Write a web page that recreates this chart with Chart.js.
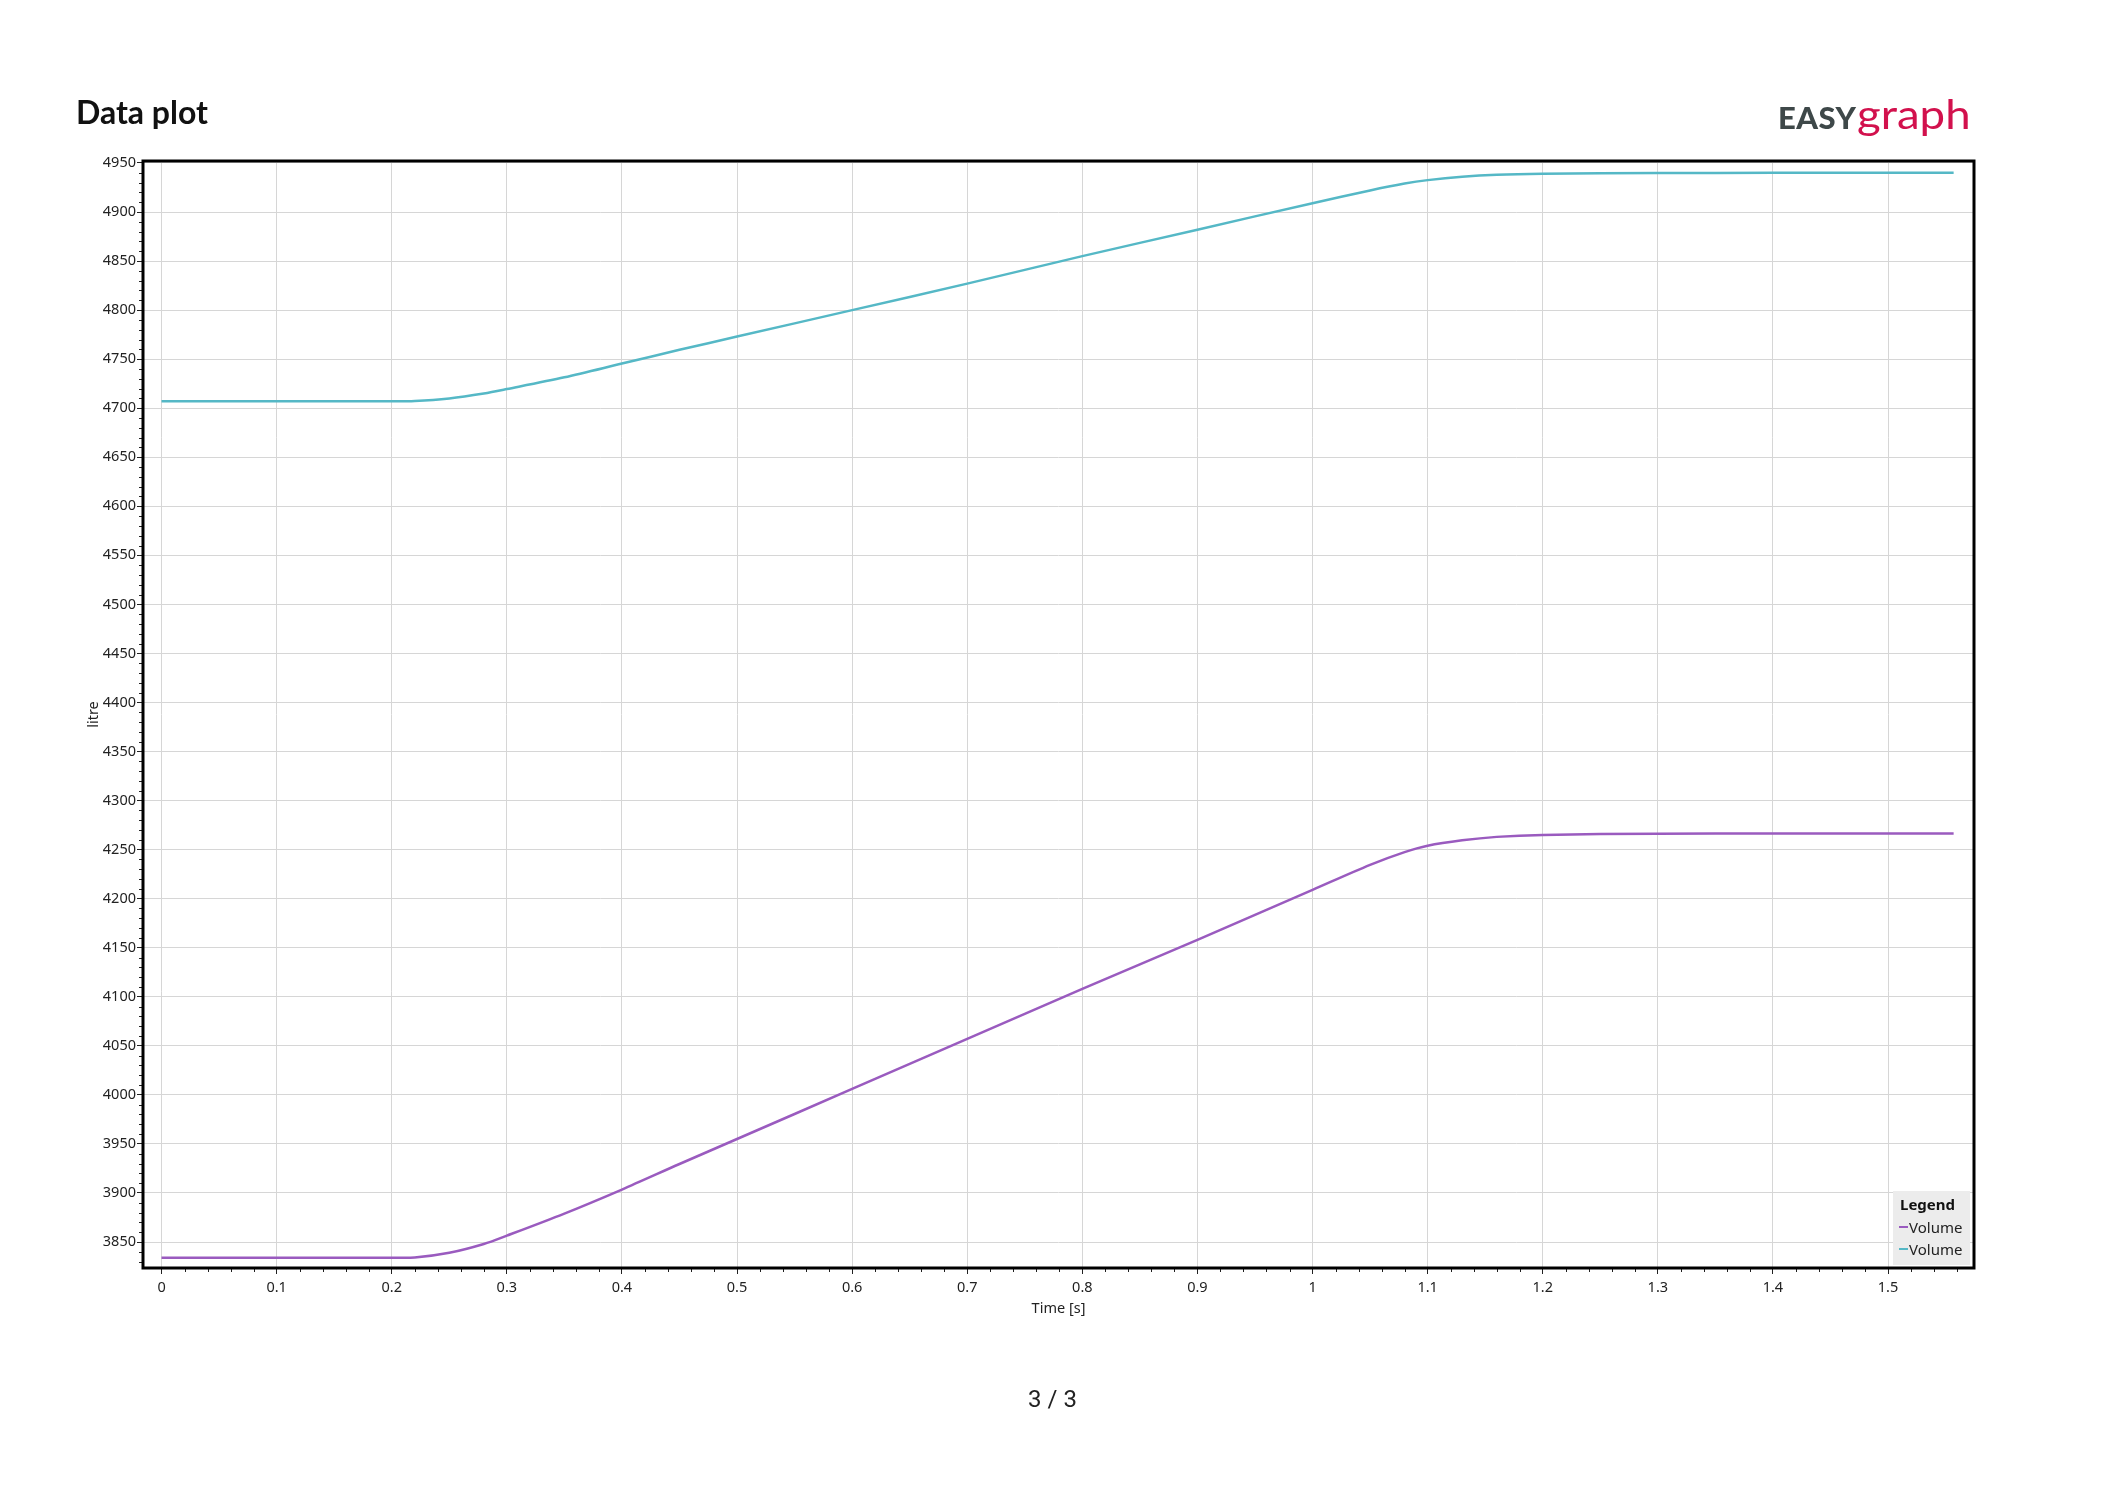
<!DOCTYPE html>
<html>
<head>
<meta charset="utf-8">
<script src="https://cdn.jsdelivr.net/npm/chart.js@4/dist/chart.umd.min.js"></script>
<style>
    html, body { margin: 0; padding: 0; background: #fff; }
    #page { position: relative; width: 2105px; height: 1489px; overflow: hidden; }
    #plot { position: absolute; left: 0; top: 0; }
    .page-title { position: absolute; left: 76px; top: 92px; font: bold 32px Lato, sans-serif; color: #111; }
    .logo { position: absolute; left: 1778px; top: 90px; white-space: nowrap; }
    .logo .easy { font: 900 31px Lato, sans-serif; color: #3e4849; letter-spacing: 0.5px; }
    .logo .graph { font: 400 40px Lato, sans-serif; color: #d2114d; display: inline-block; transform: scaleX(1.14); transform-origin: left; }
    .page-num { position: absolute; left: 0; width: 2105px; top: 1385px; text-align: center; font: 24px Roboto, sans-serif; color: #222; }
</style>
</head>
<body>
<div id="page">
    <canvas id="plot" width="2105" height="1489"></canvas>
    <div class="page-title">Data plot</div>
    <div class="logo"><span class="easy">EASY</span><span class="graph">graph</span></div>
    <div class="page-num">3 / 3</div>
</div>
<script>
// values
const timeS = [0, 0.1, 0.2, 0.22, 0.25, 0.28, 0.3, 0.35, 0.4, 0.45, 0.5, 0.6, 0.7, 0.8, 0.9,
    1.0, 1.05, 1.08, 1.1, 1.13, 1.16, 1.2, 1.3, 1.4, 1.5, 1.557];
const volumePurple = [3834, 3834, 3834, 3834.2, 3839, 3848, 3856.5, 3879, 3903.5, 3929.5, 3955, 4006, 4057, 4108, 4158,
    4209, 4234.5, 4247.5, 4254, 4259.5, 4263, 4265, 4266.3, 4266.5, 4266.5, 4266.5];
const volumeCyan = [4707, 4707, 4707, 4707.3, 4710, 4715, 4719.5, 4731.5, 4745.5, 4759.5, 4773, 4800, 4827, 4855, 4882,
    4909, 4922, 4929, 4932.5, 4936, 4938, 4939, 4939.7, 4940, 4940, 4940];
const seriesLabels = ['Volume', 'Volume'];
const seriesColors = ['#9a5bbf', '#55b8c6'];

const xRange = [-0.0161, 1.5747];
const yRange = [3823.5, 4952];
const xStep = 0.1, xMinorStep = 0.02;
const yStep = 50, yMinorStep = 10;

const tickFont = { family: 'Noto Sans', size: 14.5 };
const textColor = '#222';

const toPoints = (ys) => timeS.map((t, i) => ({ x: t, y: ys[i] }));

// black box round the plot plus the small minor ticks
const frameAndMinorTicks = {
    id: 'frameAndMinorTicks',
    afterDraw(chart) {
        const ctx = chart.ctx;
        const area = chart.chartArea;
        const xs = chart.scales.x;
        const ys = chart.scales.y;
        ctx.save();
        ctx.strokeStyle = '#222';
        ctx.lineWidth = 1;
        ctx.beginPath();
        const nx = Math.floor(xRange[1] / xMinorStep);
        for (let i = 0; i <= nx; i++) {
            if (i % 5 === 0) continue;
            const px = Math.round(xs.getPixelForValue(i * xMinorStep)) + 0.5;
            ctx.moveTo(px, area.bottom);
            ctx.lineTo(px, area.bottom + 4);
        }
        const y0 = Math.ceil(yRange[0] / yMinorStep);
        const y1 = Math.floor(yRange[1] / yMinorStep);
        for (let j = y0; j <= y1; j++) {
            if ((j * yMinorStep) % yStep === 0) continue;
            const py = Math.round(ys.getPixelForValue(j * yMinorStep)) + 0.5;
            ctx.moveTo(area.left - 4, py);
            ctx.lineTo(area.left, py);
        }
        ctx.stroke();

        ctx.strokeStyle = '#000';
        ctx.lineWidth = 3;
        ctx.strokeRect(area.left, area.top, area.right - area.left, area.bottom - area.top);
        ctx.restore();
    }
};

// legend box in the lower right corner of the plot
const cornerLegend = {
    id: 'cornerLegend',
    afterDraw(chart) {
        const ctx = chart.ctx;
        const area = chart.chartArea;
        const sets = chart.data.datasets;
        const w = 77, rowH = 22;
        const h = 30 + rowH * sets.length;
        const left = area.right - 4 - w;
        const top = area.bottom - 3 - h;
        ctx.save();
        ctx.fillStyle = '#ececec';
        ctx.fillRect(left, top, w, h);
        ctx.textBaseline = 'middle';
        ctx.fillStyle = '#111';
        ctx.font = 'bold 15px "Noto Sans"';
        ctx.fillText('Legend', left + 7, top + 15);
        ctx.font = '15px "Noto Sans"';
        sets.forEach((ds, i) => {
            const cy = top + 37 + i * rowH;
            ctx.strokeStyle = ds.borderColor;
            ctx.lineWidth = 2;
            ctx.beginPath();
            ctx.moveTo(left + 6, cy - 1);
            ctx.lineTo(left + 15, cy - 1);
            ctx.stroke();
            ctx.fillStyle = '#222';
            ctx.fillText(ds.label, left + 16, cy + 1);
        });
        ctx.restore();
    }
};

const fmt = (v) => String(+v.toFixed(2));

new Chart(document.getElementById('plot'), {
    type: 'line',
    data: {
        datasets: [
            { label: seriesLabels[0], data: toPoints(volumePurple), borderColor: seriesColors[0] },
            { label: seriesLabels[1], data: toPoints(volumeCyan), borderColor: seriesColors[1] }
        ]
    },
    options: {
        responsive: false,
        animation: false,
        devicePixelRatio: 1,
        layout: { padding: { left: 60, top: 161, right: 131, bottom: 161 } },
        elements: {
            point: { radius: 0 },
            line: { borderWidth: 2.5, tension: 0.3, fill: false }
        },
        plugins: {
            legend: { display: false },
            tooltip: { enabled: false }
        },
        scales: {
            x: {
                type: 'linear',
                min: xRange[0],
                max: xRange[1],
                afterFit: (s) => { s.height = 60; },
                border: { display: false },
                grid: { color: '#d6d6d6', lineWidth: 1, tickColor: '#222', tickLength: 6 },
                ticks: { stepSize: xStep, includeBounds: false, font: tickFont, color: textColor, padding: 5, maxRotation: 0, autoSkip: false, callback: fmt },
                title: { display: true, text: 'Time [s]', font: tickFont, color: textColor, padding: { top: 0, bottom: 10 } }
            },
            y: {
                type: 'linear',
                min: yRange[0],
                max: yRange[1],
                afterFit: (s) => { s.width = 83; },
                border: { display: false },
                grid: { color: '#d6d6d6', lineWidth: 1, tickColor: '#222', tickLength: 6 },
                ticks: { stepSize: yStep, includeBounds: false, font: tickFont, color: textColor, padding: 1, autoSkip: false, callback: fmt },
                title: { display: true, text: 'litre', font: tickFont, color: textColor, padding: { top: 25, bottom: 0 } }
            }
        }
    },
    plugins: [frameAndMinorTicks, cornerLegend]
});
</script>
</body>
</html>
